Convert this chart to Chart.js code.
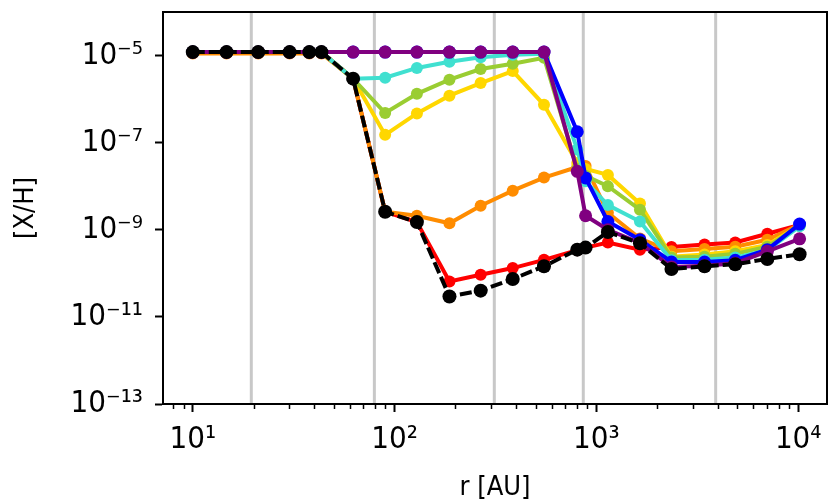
<!DOCTYPE html>
<html>
<head>
<meta charset="utf-8">
<script src="https://cdn.jsdelivr.net/npm/chart.js@4/dist/chart.umd.min.js"></script>
<style>
  html, body { margin: 0; padding: 0; background: #ffffff; }
  canvas { display: block; }
</style>
</head>
<body>
<canvas id="abund" width="834" height="502"></canvas>
<script>
// rayons (AU) des points du modèle
var rAU = [10, 14.7, 21.1, 30.2, 37.8, 43.4, 62.3, 89.8, 129, 187, 267, 385, 550,
           804, 884, 1140, 1644, 2355, 3435, 4875, 7030, 10160];

// abondances [X/H] par courbe
var serieNoire  = [1.2e-5, 1.2e-5, 1.2e-5, 1.2e-5, 1.2e-5, 1.2e-5, 2.95e-6, 2.6e-9, 1.5e-9, 2.95e-11, 4.0e-11, 7.4e-11, 1.45e-10,
                   3.5e-10, 3.9e-10, 8.9e-10, 4.9e-10, 1.26e-10, 1.45e-10, 1.62e-10, 2.14e-10, 2.75e-10];
var serieViolet = [1.2e-5, 1.2e-5, 1.2e-5, 1.2e-5, 1.2e-5, 1.2e-5, 1.2e-5, 1.2e-5, 1.2e-5, 1.2e-5, 1.2e-5, 1.2e-5, 1.2e-5,
                   2.2e-8, 2.1e-9, 1.0e-9, 5.0e-10, 1.4e-10, 1.5e-10, 1.7e-10, 3.2e-10, 6.2e-10];
var serieBleue  = [1.2e-5, 1.2e-5, 1.2e-5, 1.2e-5, 1.2e-5, 1.2e-5, 1.2e-5, 1.2e-5, 1.2e-5, 1.2e-5, 1.2e-5, 1.2e-5, 1.2e-5,
                   1.78e-7, 1.55e-8, 1.55e-9, 5.9e-10, 1.82e-10, 1.82e-10, 2.0e-10, 3.5e-10, 1.35e-9];
var serieCyan   = [1.2e-5, 1.2e-5, 1.2e-5, 1.2e-5, 1.2e-5, 1.2e-5, 2.95e-6, 3.1e-6, 5.2e-6, 7.2e-6, 9.1e-6, 1.05e-5, 1.1e-5,
                   7.0e-8, 1.3e-8, 3.7e-9, 1.55e-9, 2.0e-10, 2.05e-10, 2.3e-10, 3.4e-10, 1.2e-9];
var serieVerte  = [1.2e-5, 1.2e-5, 1.2e-5, 1.2e-5, 1.2e-5, 1.2e-5, 2.95e-6, 4.8e-7, 1.32e-6, 2.8e-6, 4.9e-6, 6.5e-6, 8.9e-6,
                   2.5e-8, 1.74e-8, 1.0e-8, 2.9e-9, 2.3e-10, 2.4e-10, 2.8e-10, 4.1e-10, 1.23e-9];
var serieJaune  = [1.2e-5, 1.2e-5, 1.2e-5, 1.2e-5, 1.2e-5, 1.2e-5, 2.95e-6, 1.51e-7, 4.7e-7, 1.2e-6, 2.34e-6, 4.4e-6, 7.4e-7,
                   3.4e-8, 2.5e-8, 1.82e-8, 4.0e-9, 2.4e-10, 2.7e-10, 3.2e-10, 4.5e-10, 1.26e-9];
var serieOrange = [1.12e-5, 1.12e-5, 1.12e-5, 1.12e-5, 1.12e-5, 1.12e-5, 2.95e-6, 2.6e-9, 2.1e-9, 1.41e-9, 3.55e-9, 7.9e-9, 1.58e-8,
                   2.75e-8, 2.9e-8, 2.45e-9, 6.3e-10, 3.2e-10, 3.6e-10, 4.1e-10, 5.9e-10, 1.32e-9];
var serieRouge  = [1.2e-5, 1.2e-5, 1.2e-5, 1.2e-5, 1.2e-5, 1.2e-5, 2.95e-6, 2.6e-9, 1.5e-9, 6.5e-11, 9.3e-11, 1.32e-10, 2.04e-10,
                   3.4e-10, 3.9e-10, 5.1e-10, 3.5e-10, 4.0e-10, 4.6e-10, 5.1e-10, 8.1e-10, 1.29e-9];

// lignes verticales grises (AU)
var lignesGrises = [19.5, 79.4, 312, 861, 3900];

// graduations
var ticksX = [10, 100, 1000, 10000];
var ticksY = [1e-13, 1e-11, 1e-9, 1e-7, 1e-5];
var etiquettesX = { 10: '10\u00b9', 100: '10\u00b2', 1000: '10\u00b3', 10000: '10\u2074' };
var etiquettesY = ['10\u207b\u00b9\u00b3', '10\u207b\u00b9\u00b9', '10\u207b\u2079', '10\u207b\u2077', '10\u207b\u2075'];

var X_MIN = 7.12, X_MAX = 13890, Y_MIN = 1e-13, Y_MAX = 1e-4;
var POLICE = "'DejaVu Sans Condensed', 'DejaVu Sans'";

function points(valeurs) {
    return rAU.map(function (r, i) { return { x: r, y: valeurs[i] }; });
}

function courbe(valeurs, couleur, rayon, tirets) {
    return {
        data: points(valeurs),
        borderColor: couleur,
        backgroundColor: couleur,
        borderWidth: 4,
        borderDash: tirets || [],
        pointRadius: rayon,
        pointBorderWidth: 0,
        pointHoverRadius: rayon,
        tension: 0
    };
}

var datasets = [
    courbe(serieNoire, '#000000', 7, [12, 4]),
    courbe(serieViolet, '#800080', 6.5),
    courbe(serieBleue, '#0000ff', 6.5),
    courbe(serieCyan, '#40e0d0', 6),
    courbe(serieVerte, '#9acd32', 6),
    courbe(serieJaune, '#ffd700', 6),
    courbe(serieOrange, '#ff8c00', 6),
    courbe(serieRouge, '#ff0000', 6)
];

// lignes grises sous les courbes (dessinées en premier = dernier dataset)
lignesGrises.forEach(function (r) {
    datasets.push({
        data: [{ x: r, y: Y_MIN }, { x: r, y: Y_MAX }],
        borderColor: '#c8c8c8',
        borderWidth: 3,
        pointRadius: 0
    });
});

// petites graduations log en x + cadre
var cadre = {
    id: 'cadre',
    afterDraw: function (chart) {
        var ctx = chart.ctx, a = chart.chartArea, sx = chart.scales.x;
        ctx.save();
        ctx.strokeStyle = '#000000';
        ctx.lineWidth = 1.5;
        ctx.beginPath();
        for (var n = 0; n <= 4; n++) {
            for (var k = 2; k <= 9; k++) {
                var v = k * Math.pow(10, n);
                if (v < X_MIN || v > X_MAX) { continue; }
                var px = Math.round(sx.getPixelForValue(v)) + 0.5;
                ctx.moveTo(px, a.bottom);
                ctx.lineTo(px, a.bottom + 5);
            }
        }
        ctx.stroke();
        ctx.lineWidth = 2;
        ctx.strokeRect(a.left, a.top, a.right - a.left, a.bottom - a.top);
        ctx.restore();
    }
};

new Chart(document.getElementById('abund').getContext('2d'), {
    type: 'line',
    data: { datasets: datasets },
    options: {
        responsive: false,
        animation: false,
        devicePixelRatio: 1,
        layout: { padding: { top: 12, right: 2, left: 0, bottom: 0 } },
        plugins: { legend: { display: false }, tooltip: { enabled: false } },
        scales: {
            x: {
                type: 'logarithmic',
                min: X_MIN,
                max: X_MAX,
                afterBuildTicks: function (s) { s.ticks = ticksX.map(function (v) { return { value: v }; }); },
                afterFit: function (s) { s.height = 98; s.paddingLeft = 0; s.paddingRight = 0; },
                grid: { drawOnChartArea: false, tickLength: 8, tickWidth: 2, tickColor: '#000000' },
                border: { display: true, color: '#000000', width: 2 },
                ticks: {
                    autoSkip: false,
                    maxRotation: 0,
                    padding: 9,
                    color: '#000000',
                    font: { family: POLICE, size: 31 },
                    callback: function (v) { return etiquettesX[v] || ''; }
                },
                title: {
                    display: true,
                    text: 'r [AU]',
                    color: '#000000',
                    font: { family: POLICE, size: 27, lineHeight: 1.05 },
                    padding: { top: 0, bottom: 0 }
                }
            },
            y: {
                type: 'logarithmic',
                min: Y_MIN,
                max: Y_MAX,
                afterBuildTicks: function (s) { s.ticks = ticksY.map(function (v) { return { value: v }; }); },
                afterFit: function (s) { s.width = 163; s.paddingTop = 0; s.paddingBottom = 0; },
                grid: { drawOnChartArea: false, tickLength: 8, tickWidth: 2, tickColor: '#000000' },
                border: { display: true, color: '#000000', width: 2 },
                ticks: {
                    autoSkip: false,
                    padding: 12,
                    color: '#000000',
                    font: { family: POLICE, size: 31 },
                    callback: function (v, i) { return etiquettesY[i]; }
                },
                title: {
                    display: true,
                    text: '[X/H]',
                    color: '#000000',
                    font: { family: POLICE, size: 27 },
                    padding: { top: 10, bottom: 8 }
                }
            }
        }
    },
    plugins: [cadre]
});
</script>
</body>
</html>
